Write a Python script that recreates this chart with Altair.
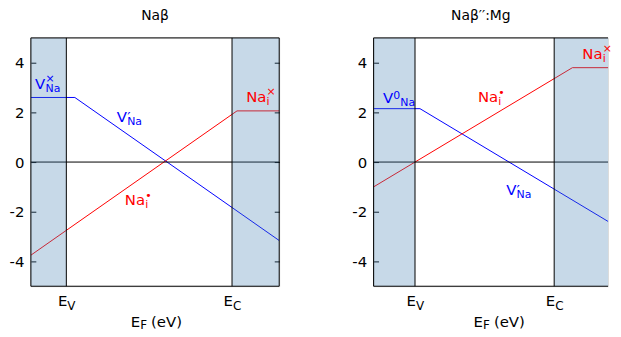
import altair as alt
import pandas as pd

FONT = "DejaVu Sans"
BLUE = "#0000ff"
RED = "#ff0000"
SHADE = "#4682b4"

Y_RANGE = [-5, 5]
Y_TICKS = [-4, -2, 0, 2, 4]

# ---- Panel 1: Naβ ----
NB_TITLE = "Naβ"
NB_X_RANGE = [-1.0, 6.0]
NB_EV, NB_EC = 0.0, 4.67
NB_V_X = [-1.0, 0.24, 6.0]
NB_V_Y = [2.6, 2.6, -3.16]
NB_NA_X = [-1.0, 4.81, 6.0]
NB_NA_Y = [-3.75, 2.06, 2.06]
NB_LBL_MAIN = ["V", "V", "Na", "Na"]
NB_LBL_SUP = ["×", "′", "×", "•"]
NB_LBL_SUB = ["Na", "Na", "i", "i"]
NB_LBL_SERIES = ["V", "V", "Na", "Na"]
NB_LBL_X = [-0.88, 1.42, 5.07, 1.65]
NB_LBL_Y = [2.96, 1.60, 2.43, -1.74]
NB_LBL_STACK = [True, True, True, True]

# ---- Panel 2: Naβ''/Mg (its right end lies past the picture's edge) ----
MG_TITLE = "Naβ′′:Mg"
MG_X_RANGE = [-1.0, 4.66]
MG_X_FULL_END = 5.0
MG_EV, MG_EC = 0.0, 3.36
MG_V_X = [-1.0, 0.12, 5.0]
MG_V_Y = [2.15, 2.15, -2.73]
MG_NA_X = [-1.0, 3.8, 5.0]
MG_NA_Y = [-1.0, 3.8, 3.8]
MG_LBL_MAIN = ["V", "Na", "V", "Na"]
MG_LBL_SUP = ["0", "•", "′", "×"]
MG_LBL_SUB = ["Na", "i", "Na", "i"]
MG_LBL_SERIES = ["V", "Na", "V", "Na"]
MG_LBL_X = [-0.775, 1.52, 2.20, 4.04]
MG_LBL_Y = [2.37, 2.40, -1.34, 4.16]
MG_LBL_STACK = [False, True, True, True]

EDGE_LABELS = ["V", "C"]
X_TITLE_MAIN, X_TITLE_SUB, X_TITLE_UNIT = "E", "F", "(eV)"
EDGE_LABEL_Y = -5.78
X_TITLE_Y = -6.66

# ---- styling helpers ----
MAIN_SIZE = 15
SCRIPT_SIZE = 11
TEXT_W = {"V": 10.5, "Na": 20.5, "0": 7.0}
SUP_DY = {"×": -7, "•": -6, "′": 0, "0": -4}
SUP_SIZE = {"′": 15}
SUB_DY = 3
COLORS = {"V": BLUE, "Na": RED}
PX_PER_UNIT_Y = 25

LEFT_AXIS = alt.Axis(orient="left", values=Y_TICKS, tickSize=5, offset=-5, domain=False,
                     grid=False, labelFontSize=15, labelPadding=7, labelFont=FONT,
                     labelExpr="'' + datum.value",
                     labelColor="black", tickColor="black", title=None)
RIGHT_AXIS = alt.Axis(orient="right", values=Y_TICKS, tickSize=5, offset=-5, domain=False,
                      grid=False, labels=False, tickColor="black", title=None)


def build_panel(title, title_dx, xr, x_center, ev, ec, vx, vy, nx, ny,
                l_main, l_sup, l_sub, l_series, l_x, l_y, l_stack, closed, width):
    xs = alt.Scale(domain=xr, nice=False, zero=False)
    ys = alt.Scale(domain=Y_RANGE, nice=False, zero=False)

    def X(f):
        return alt.X(f, type="quantitative", scale=xs, axis=None)

    def Y(f, axis=None):
        return alt.Y(f, type="quantitative", scale=ys, axis=axis)

    lines_df = pd.DataFrame({"x": vx + nx, "y": vy + ny,
                             "s": ["V"] * len(vx) + ["Na"] * len(nx)})
    lines = alt.Chart(lines_df).mark_line(strokeWidth=1, clip=True).encode(
        x=X("x"), y=Y("y", LEFT_AXIS),
        color=alt.Color("s:N", scale=alt.Scale(domain=["V", "Na"], range=[BLUE, RED]), legend=None),
        detail="s:N",
    )
    zero = alt.Chart(pd.DataFrame({"x": [xr[0]], "x2": [xr[1]], "y": [0]})).mark_rule(
        color="black", strokeWidth=1).encode(x=X("x"), x2="x2:Q",
                                             y=Y("y", RIGHT_AXIS if closed else None))
    shade = alt.Chart(pd.DataFrame({"x": [xr[0], ec], "x2": [ev, xr[1]],
                                    "y": [Y_RANGE[0]] * 2, "y2": [Y_RANGE[1]] * 2})).mark_rect(
        color=SHADE, opacity=0.3).encode(x=X("x"), x2="x2:Q", y=Y("y"), y2="y2:Q")
    vx_edges = [ev, ec, xr[0]] + ([xr[1]] if closed else [])
    edges = alt.Chart(pd.DataFrame({"x": vx_edges, "y": [Y_RANGE[0]] * len(vx_edges),
                                    "y2": [Y_RANGE[1]] * len(vx_edges)})).mark_rule(
        color="black", strokeWidth=1).encode(x=X("x"), y=Y("y"), y2="y2:Q")
    hframe = alt.Chart(pd.DataFrame({"x": [xr[0]] * 2, "x2": [xr[1]] * 2, "y": Y_RANGE})).mark_rule(
        color="black", strokeWidth=1).encode(x=X("x"), x2="x2:Q", y=Y("y"))

    def piece(txt, x, y, color, size, dx=0, dy=0, align="left"):
        return alt.Chart(pd.DataFrame({"x": [x], "y": [y], "t": [txt]})).mark_text(
            align=align, baseline="alphabetic", dx=dx, dy=dy, fontSize=size,
            font=FONT, color=color).encode(x=X("x"), y=Y("y"), text="t:N")

    texts = []
    for m, sp, sb, se, x, y, st in zip(l_main, l_sup, l_sub, l_series, l_x, l_y, l_stack):
        c = COLORS[se]
        texts.append(piece(m, x, y, c, MAIN_SIZE))
        texts.append(piece(sp, x, y, c, SUP_SIZE.get(sp, SCRIPT_SIZE), dx=TEXT_W[m], dy=SUP_DY[sp]))
        sub_dx = TEXT_W[m] if st else TEXT_W[m] + TEXT_W.get(sp, 7)
        texts.append(piece(sb, x, y, c, SCRIPT_SIZE, dx=sub_dx, dy=SUB_DY))

    for pos, sub in zip([ev, ec], EDGE_LABELS):
        texts.append(piece("E", pos, EDGE_LABEL_Y, "black", MAIN_SIZE, dx=1, align="right"))
        texts.append(piece(sub, pos, EDGE_LABEL_Y, "black", 12, dx=1, dy=4))

    texts.append(piece(X_TITLE_MAIN, x_center, X_TITLE_Y, "black", MAIN_SIZE, dx=-15, align="right"))
    texts.append(piece(X_TITLE_SUB, x_center, X_TITLE_Y, "black", 12, dx=-15, dy=2))
    texts.append(piece(X_TITLE_UNIT, x_center, X_TITLE_Y, "black", MAIN_SIZE, dx=-4))

    return alt.layer(lines, zero, shade, edges, hframe, *texts).resolve_axis(y="independent").properties(
        width=width, height=PX_PER_UNIT_Y * (Y_RANGE[1] - Y_RANGE[0]),
        title=alt.TitleParams(title, fontSize=14, font=FONT, fontWeight="normal",
                              color="black", offset=14, dx=title_dx),
    )


left = build_panel(NB_TITLE, 0, NB_X_RANGE, (NB_X_RANGE[0] + NB_X_RANGE[1]) / 2,
                   NB_EV, NB_EC, NB_V_X, NB_V_Y, NB_NA_X, NB_NA_Y,
                   NB_LBL_MAIN, NB_LBL_SUP, NB_LBL_SUB, NB_LBL_SERIES, NB_LBL_X, NB_LBL_Y,
                   NB_LBL_STACK, True, 250)
right = build_panel(MG_TITLE, -10, MG_X_RANGE, (MG_X_RANGE[0] + MG_X_FULL_END) / 2,
                    MG_EV, MG_EC, MG_V_X, MG_V_Y, MG_NA_X, MG_NA_Y,
                    MG_LBL_MAIN, MG_LBL_SUP, MG_LBL_SUB, MG_LBL_SERIES, MG_LBL_X, MG_LBL_Y,
                    MG_LBL_STACK, False, 236)

chart = alt.hconcat(left, right, spacing=71).properties(
    padding={"left": 0, "top": 0, "right": 0, "bottom": 0}
).configure_view(stroke=None).configure(background="white")

chart.save("out.html", embed_options={"renderer": "svg", "actions": False})
